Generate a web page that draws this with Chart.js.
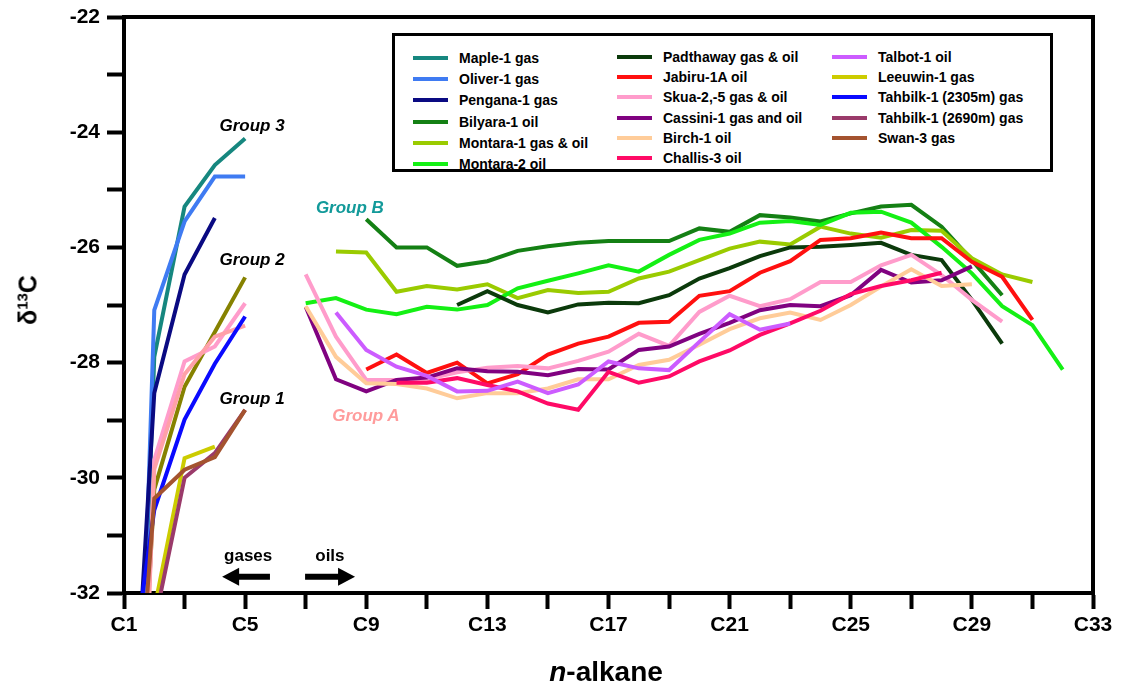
<!DOCTYPE html>
<html>
<head>
<meta charset="utf-8">
<title>n-alkane carbon isotopes</title>
<script src="https://cdn.jsdelivr.net/npm/chart.js"></script>
<style>
  html, body { margin: 0; padding: 0; background: #fff; }
  #wrap { position: relative; width: 1125px; height: 691px; font-family: "Liberation Sans", Arial, sans-serif; color: #000; }
  #chart { position: absolute; left: 0; top: 0; }
  .note { position: absolute; font-weight: bold; font-style: italic; font-size: 17px; white-space: nowrap; transform: translate(-50%, -50%); }
  .note.plain { font-style: normal; font-size: 17px; }
  #yTitle { position: absolute; left: 28px; top: 300px; transform: translate(-50%, -50%) rotate(-90deg); font-weight: bold; font-size: 25px; white-space: nowrap; }
  #yTitle sup { font-size: 15px; vertical-align: 9px; line-height: 0; }
  #xTitle { position: absolute; left: 606px; top: 672px; transform: translate(-50%, -50%); font-weight: bold; font-size: 28px; white-space: nowrap; }
  #legendBox { position: absolute; left: 392px; top: 33px; width: 655px; height: 133px; border: 3px solid #000; background: #fff; }
  .legend-item { position: absolute; white-space: nowrap; font-weight: bold; font-size: 14px; display: flex; align-items: center; transform: translateY(-50%); }
  .swatch { display: inline-block; width: 35px; height: 4px; margin-right: 11px; }
</style>
</head>
<body>
<div id="wrap">
  <canvas id="chart" width="1125" height="691"></canvas>
  <div id="yTitle">δ<sup>13</sup>C</div>
  <div id="xTitle"><i>n</i>-alkane</div>
  <div id="legendBox"></div>
</div>
<script>
// δ13C values (‰) per n-alkane, first value sits at the given start carbon
// gases, C1-C5
const mapleGas       = [-42.5, -27.9, -25.29, -24.57, -24.11];
const oliverGas      = [-43.5, -27.09, -25.55, -24.77, -24.77];
const penganaGas     = [-37.4, -28.53, -26.47, -25.49];
const montara1Gas    = [-40.0, -30.2, -28.42, -27.47, -26.52];
const skua2Gas       = [-43.6, -29.69, -27.98, -27.72, -26.97];
const skua5Gas       = [-43.0, -29.85, -28.2, -27.55, -27.36];
const leeuwinGas     = [-38.0, -32.28, -29.66, -29.46];
const tahbilk2305Gas = [-34.3, -30.56, -28.99, -28.02, -27.2];
const tahbilk2690Gas = [-40.0, -32.54, -30.0, -29.57, -28.82];
const swanGas        = [-37.5, -30.36, -29.86, -29.64, -28.82];

// oils
const bilyaraOil   = [-25.51, -26.0, -26.0, -26.32, -26.24, -26.06, -25.98, -25.92, -25.89, -25.89, -25.89,
                      -25.67, -25.73, -25.44, -25.48, -25.55, -25.41, -25.29, -25.26, -25.64, -26.22, -26.83]; // C9-C30
const montara1Oil  = [-26.07, -26.09, -26.77, -26.67, -26.73, -26.64, -26.88, -26.74, -26.79, -26.77, -26.54, -26.42,
                      -26.22, -26.02, -25.9, -25.95, -25.64, -25.76, -25.83, -25.7, -25.71, -26.19, -26.47, -26.6]; // C8-C31
const montara2Oil  = [-26.97, -26.88, -27.08, -27.16, -27.03, -27.08, -27.0, -26.71, -26.58, -26.45, -26.31, -26.42, -26.13,
                      -25.87, -25.76, -25.57, -25.54, -25.61, -25.4, -25.38, -25.57, -25.99, -26.45, -27.02, -27.35, -28.12]; // C7-C32
const padthawayOil = [-27.0, -26.76, -27.0, -27.13, -26.99, -26.96, -26.97, -26.83, -26.54, -26.36,
                      -26.15, -26.0, -25.99, -25.96, -25.92, -26.13, -26.22, -26.91, -27.67]; // C12-C30
const jabiruOil    = [-28.12, -27.86, -28.18, -28.0, -28.36, -28.2, -27.86, -27.67, -27.55, -27.31, -27.29, -26.84,
                      -26.76, -26.44, -26.24, -25.87, -25.84, -25.74, -25.84, -25.84, -26.25, -26.51, -27.26]; // C9-C31
const skuaOil      = [-26.47, -27.55, -28.3, -28.3, -28.29, -28.17, -28.09, -28.06, -28.1, -27.97, -27.81, -27.5,
                      -27.71, -27.12, -26.84, -27.02, -26.9, -26.6, -26.6, -26.31, -26.13, -26.48, -26.91, -27.29]; // C7-C30
const cassiniOil   = [-27.03, -28.29, -28.5, -28.3, -28.26, -28.1, -28.15, -28.16, -28.22, -28.11, -28.12, -27.78,
                      -27.72, -27.5, -27.31, -27.09, -27.0, -27.02, -26.83, -26.39, -26.61, -26.57, -26.33]; // C7-C29
const birchOil     = [-27.02, -27.9, -28.36, -28.37, -28.45, -28.62, -28.53, -28.53, -28.45, -28.29, -28.29, -28.04,
                      -27.95, -27.69, -27.42, -27.23, -27.13, -27.26, -27.0, -26.68, -26.38, -26.67, -26.64]; // C7-C29
const challisOil   = [-28.35, -28.35, -28.27, -28.39, -28.5, -28.71, -28.82, -28.16, -28.35, -28.24,
                      -27.98, -27.79, -27.52, -27.32, -27.1, -26.81, -26.67, -26.57, -26.44]; // C10-C28
const talbotOil    = [-27.13, -27.78, -28.07, -28.23, -28.5, -28.49, -28.33, -28.53,
                      -28.38, -27.98, -28.1, -28.13, -27.64, -27.16, -27.43, -27.32]; // C8-C23

// axis ticks
const xTickStep = 2;
const yTickStep = 1;

// legend order; parts = [start carbon, values, optional colour]
const series = [
  { name: 'Maple-1 gas', color: '#16877f', parts: [[1, mapleGas]] },
  { name: 'Oliver-1 gas', color: '#3f7bf2', parts: [[1, oliverGas]] },
  { name: 'Pengana-1 gas', color: '#0a0a82', parts: [[1, penganaGas]] },
  { name: 'Bilyara-1 oil', color: '#148014', parts: [[9, bilyaraOil]] },
  { name: 'Montara-1 gas & oil', color: '#9acb00', parts: [[8, montara1Oil], [1, montara1Gas, '#868200']] },
  { name: 'Montara-2 oil', color: '#14f014', parts: [[7, montara2Oil]] },
  { name: 'Padthaway gas & oil', color: '#0b3a0b', parts: [[12, padthawayOil]] },
  { name: 'Jabiru-1A oil', color: '#ff1010', parts: [[9, jabiruOil]] },
  { name: 'Skua-2,-5 gas & oil', color: '#ff9ccb', parts: [[7, skuaOil], [1, skua2Gas], [1, skua5Gas, '#ffa0a8']] },
  { name: 'Cassini-1 gas and oil', color: '#800280', parts: [[7, cassiniOil]] },
  { name: 'Birch-1 oil', color: '#ffcc99', parts: [[7, birchOil]] },
  { name: 'Challis-3 oil', color: '#ff0a66', parts: [[10, challisOil]] },
  { name: 'Talbot-1 oil', color: '#cc5cff', parts: [[8, talbotOil]] },
  { name: 'Leeuwin-1 gas', color: '#cccc00', parts: [[1, leeuwinGas]] },
  { name: 'Tahbilk-1 (2305m) gas', color: '#0a0aff', parts: [[1, tahbilk2305Gas]] },
  { name: 'Tahbilk-1 (2690m) gas', color: '#9a3a6a', parts: [[1, tahbilk2690Gas]] },
  { name: 'Swan-3 gas', color: '#a4532f', parts: [[1, swanGas]] }
];

// text notes and arrows, in axis units
const notes = [
  { text: 'Group 3', x: 5.23, y: -23.89, color: '#000' },
  { text: 'Group 2', x: 5.23, y: -26.22, color: '#000' },
  { text: 'Group 1', x: 5.23, y: -28.63, color: '#000' },
  { text: 'Group B', x: 8.46, y: -25.32, color: '#139a9a' },
  { text: 'Group A', x: 8.99, y: -28.93, color: '#ff9c9c' },
  { text: 'gases', x: 5.1, y: -31.36, color: '#000', plain: true },
  { text: 'oils', x: 7.8, y: -31.36, color: '#000', plain: true }
];
const arrows = [
  { from: 5.82, to: 4.24, y: -31.72 },
  { from: 6.98, to: 8.63, y: -31.72 }
];

const FONT = '"Liberation Sans", Arial, sans-serif';

const datasets = [];
series.forEach(s => {
  s.parts.forEach(([start, values, color]) => {
    datasets.push({
      label: s.name,
      data: values.map((v, i) => ({ x: start + i, y: v })),
      borderColor: color || s.color,
      backgroundColor: color || s.color,
      borderWidth: 4,
      pointRadius: 0,
      pointHoverRadius: 0,
      tension: 0,
      fill: false
    });
  });
});
// later series sit on top
datasets.forEach((d, i) => { d.order = -i; });

function drawArrow(ctx, x0, x1, y) {
  const dir = Math.sign(x1 - x0);
  const head = 17;
  ctx.lineWidth = 6;
  ctx.beginPath();
  ctx.moveTo(x0, y);
  ctx.lineTo(x1 - dir * head * 0.8, y);
  ctx.stroke();
  ctx.beginPath();
  ctx.moveTo(x1, y);
  ctx.lineTo(x1 - dir * head, y - 9);
  ctx.lineTo(x1 - dir * head, y + 9);
  ctx.closePath();
  ctx.fill();
}

const framePlugin = {
  id: 'frame',
  afterDraw(chart) {
    const { ctx, chartArea: a, scales: { x, y } } = chart;
    ctx.save();
    ctx.strokeStyle = '#000';
    ctx.fillStyle = '#000';
    ctx.lineWidth = 4;
    ctx.beginPath();
    ctx.moveTo(a.left - 2, a.top);
    ctx.lineTo(a.right, a.top);
    ctx.lineTo(a.right, a.bottom + 2);
    ctx.stroke();
    arrows.forEach(ar => drawArrow(ctx, x.getPixelForValue(ar.from), x.getPixelForValue(ar.to), y.getPixelForValue(ar.y)));
    ctx.restore();
  }
};

const tickFont = { family: FONT, size: 21, weight: 'bold' };

const chart = new Chart(document.getElementById('chart'), {
  type: 'line',
  data: { datasets },
  options: {
    responsive: false,
    animation: false,
    events: [],
    layout: { padding: { top: 17, right: 32, left: 0, bottom: 0 } },
    plugins: { legend: { display: false }, tooltip: { enabled: false } },
    scales: {
      x: {
        type: 'linear',
        min: 1,
        max: 33,
        z: 1,
        ticks: {
          stepSize: xTickStep,
          autoSkip: false,
          maxRotation: 0,
          color: '#000',
          font: tickFont,
          padding: 4,
          callback: v => ((v - 1) % 4 === 0 ? 'C' + v : '')
        },
        grid: { drawOnChartArea: false, tickLength: 16, tickWidth: 4, tickColor: '#000' },
        border: { color: '#000', width: 4 },
        afterFit: s => { s.height = 98; s.paddingLeft = 0; s.paddingRight = 0; }
      },
      y: {
        min: -32,
        max: -22,
        z: 1,
        ticks: {
          stepSize: yTickStep,
          autoSkip: false,
          color: '#000',
          font: tickFont,
          padding: 7,
          callback: v => (v % 2 === 0 ? String(v) : '')
        },
        grid: { drawOnChartArea: false, tickLength: 17, tickWidth: 4, tickColor: '#000' },
        border: { color: '#000', width: 4 },
        afterFit: s => { s.width = 124; s.paddingTop = 0; s.paddingBottom = 0; }
      }
    }
  },
  plugins: [framePlugin]
});

// notes placed through the chart's own scales
const wrap = document.getElementById('wrap');
notes.forEach(n => {
  const el = document.createElement('div');
  el.className = 'note' + (n.plain ? ' plain' : '');
  el.textContent = n.text;
  el.style.color = n.color;
  el.style.left = chart.scales.x.getPixelForValue(n.x) + 'px';
  el.style.top = chart.scales.y.getPixelForValue(n.y) + 'px';
  wrap.appendChild(el);
});

// three-column legend built from the series list
const legendBox = document.getElementById('legendBox');
const columns = [
  { count: 6, left: 18, top: 22, step: 21.2 },
  { count: 6, left: 222, top: 21, step: 20.2 },
  { count: 5, left: 437, top: 21, step: 20.2 }
];
let idx = 0;
columns.forEach(col => {
  for (let r = 0; r < col.count && idx < series.length; r++, idx++) {
    const s = series[idx];
    const item = document.createElement('div');
    item.className = 'legend-item';
    item.style.left = col.left + 'px';
    item.style.top = (col.top + r * col.step) + 'px';
    const sw = document.createElement('span');
    sw.className = 'swatch';
    sw.style.background = s.color;
    item.appendChild(sw);
    item.appendChild(document.createTextNode(s.name));
    legendBox.appendChild(item);
  }
});
</script>
</body>
</html>
